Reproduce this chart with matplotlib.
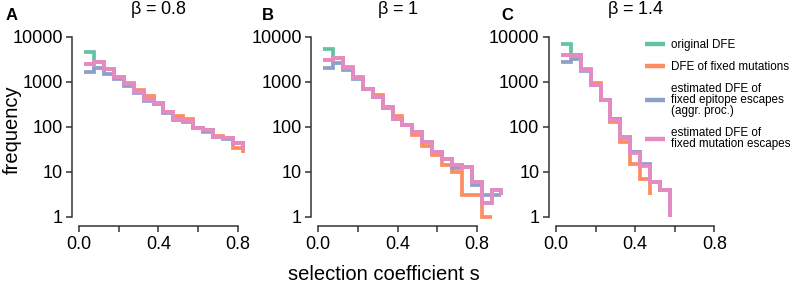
import matplotlib
matplotlib.use("Agg")
import matplotlib.pyplot as plt
import numpy as np

plt.rcParams["font.family"] = ["Liberation Sans", "DejaVu Sans"]

# bin centres of width 0.05
BIN_W = 0.05

BETAS = ["0.8", "1", "1.4"]
PANEL_LETTERS = ["A", "B", "C"]
LABELS = [
    "original DFE",
    "DFE of fixed mutations",
    "estimated DFE of\nfixed epitope escapes\n(aggr. proc.)",
    "estimated DFE of\nfixed mutation escapes",
]
COLORS = ["#66C2A5", "#FC8D62", "#8DA0CB", "#E78AC3"]

# panel A (beta = 0.8)
a_original = [4640, 2800, 1900, 1290, 890, 600, 420, 340, 215, 145, 135, 95, 85, 60, 55, 44, 31]
a_fixed = [2470, 2800, 1950, 1300, 950, 640, 470, 340, 215, 170, 150, 95, 78, 62, 55, 33, 26]
a_epitope = [1660, 2050, 1500, 1150, 820, 560, 380, 320, 205, 140, 130, 92, 82, 58, 53, 43, 31]
a_mutation = [2470, 2800, 1900, 1290, 890, 600, 400, 340, 215, 145, 135, 95, 85, 60, 55, 44, 31]

# panel B (beta = 1)
b_original = [5250, 3400, 2000, 1200, 700, 460, 270, 150, 109, 76, 46, 28, 19, 14, 13, 6, 2, 4, 3]
b_fixed = [3100, 3400, 2100, 1250, 700, 500, 270, 172, 109, 66, 37, 23, 14, 10, 3, 3, 1, 1]
b_epitope = [2040, 2550, 1800, 1150, 680, 450, 265, 148, 107, 76, 45, 28, 19, 12, 13, 5, 3, 3, 3]
b_mutation = [3030, 3400, 2000, 1200, 700, 460, 270, 150, 109, 76, 46, 28, 19, 14, 13, 6, 2, 4, 3]

# panel C (beta = 1.4)
c_original = [6800, 3900, 1820, 850, 390, 145, 57, 27, 14, 6, 4, 1]
c_fixed = [3900, 3900, 1900, 920, 400, 128, 46, 15, 7, 3]
c_epitope = [2700, 3150, 1750, 850, 390, 150, 60, 27, 15, 6, 4, 1]
c_mutation = [3900, 3900, 1820, 850, 385, 143, 56, 26, 13.5, 6, 4, 1]

PANELS = [
    [a_original, a_fixed, a_epitope, a_mutation],
    [b_original, b_fixed, b_epitope, b_mutation],
    [c_original, c_fixed, c_epitope, c_mutation],
]

W, H = 792, 288
PX_PER_UNIT = 198.0
X0_PX = [79.3, 318.3, 556.0]      # pixel of s = 0 in each panel
LETTER_PX = [12, 268, 507]
XMIN, XMAX = -0.035, 0.95
AX_TOP, AX_BOT = 30, 226          # pixels from top
SPINE_C = "#333333"


def create_plot():
    fig = plt.figure(figsize=(W / 100, H / 100), dpi=100)
    axes = []
    for i, series in enumerate(PANELS):
        left = X0_PX[i] + XMIN * PX_PER_UNIT
        width = (XMAX - XMIN) * PX_PER_UNIT
        ax = fig.add_axes([left / W, (H - AX_BOT) / H, width / W, (AX_BOT - AX_TOP) / H])
        ax.patch.set_alpha(0)
        for vals, color, label in zip(series, COLORS, LABELS):
            x = BIN_W / 2 + BIN_W * np.arange(len(vals))
            ax.step(x, vals, where="post", color=color, lw=2.7, label=label,
                    solid_capstyle="butt", solid_joinstyle="miter")

        ax.set_yscale("log")
        ax.set_xlim(XMIN, XMAX)
        ax.set_ylim(10 ** -0.207, 10 ** 4.149)
        ax.set_yticks([1, 10, 100, 1000, 10000])
        ax.set_yticklabels(["1", "10", "100", "1000", "10000"])
        ax.yaxis.set_minor_locator(matplotlib.ticker.NullLocator())
        ax.set_xticks([0, 0.2, 0.4, 0.6, 0.8])
        ax.set_xticklabels(["0.0", "", "0.4", "", "0.8"])
        for side in ["top", "right"]:
            ax.spines[side].set_visible(False)
        ax.spines["left"].set_bounds(1, 10000)
        ax.spines["bottom"].set_bounds(0, 0.8)
        for side in ["left", "bottom"]:
            ax.spines[side].set_color(SPINE_C)
            ax.spines[side].set_linewidth(1.1)
        ax.tick_params(length=4, width=1.1, color=SPINE_C, labelsize=13, pad=3)

        ax.annotate(r"$\mathregular{\beta}$ = " + BETAS[i], xy=(0.4, 1 - 9.5 / H),
                    xycoords=("data", "figure fraction"), ha="center", va="center",
                    fontsize=13)
        fig.text(LETTER_PX[i] / W, 1 - 15.5 / H, PANEL_LETTERS[i], fontsize=12,
                 fontweight="bold", ha="center", va="center")
        axes.append(ax)

    fig.text(12 / W, 1 - 130 / H, "frequency", rotation=90, fontsize=14.5,
             ha="center", va="center")
    fig.text(384 / W, 1 - 275 / H, "selection coefficient s", fontsize=14.5,
             ha="center", va="center")

    leg = axes[2].legend(loc="upper left", bbox_to_anchor=(645 / W, 1 - 39 / H),
                         bbox_transform=fig.transFigure, frameon=False, fontsize=8.4,
                         borderpad=0, borderaxespad=0, handlelength=1.7,
                         handletextpad=0.55, labelspacing=0.85)
    for t in leg.get_texts():
        t.set_linespacing(0.9)
    for h in leg.get_lines():
        h.set_linewidth(3.2)

    fig.savefig("out.png", dpi=100)


def main():
    create_plot()


if __name__ == "__main__":
    main()
